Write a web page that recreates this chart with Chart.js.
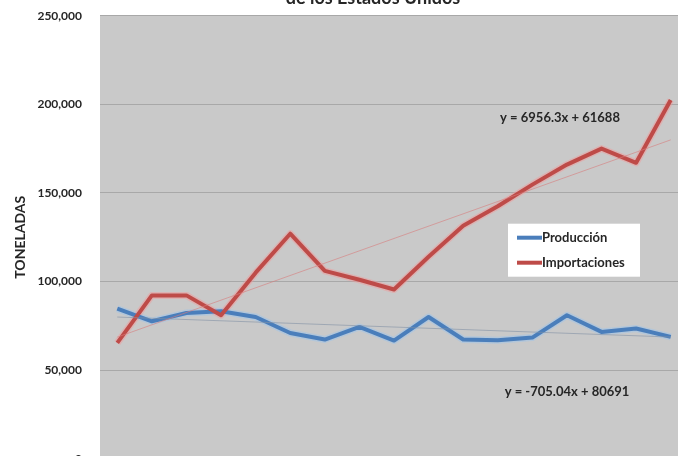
<!DOCTYPE html>
<html>
<head>
<meta charset="utf-8">
<script src="https://cdn.jsdelivr.net/npm/chart.js@4"></script>
<style>
html,body{margin:0;padding:0;background:#fff;width:678px;height:456px;overflow:hidden;position:relative;}
#c{position:absolute;left:0;top:-20px;}
</style>
</head>
<body>
<canvas id="c" width="744" height="520"></canvas>
<script>
// ---- data ----
const titleText = "de los Estados Unidos";
const yAxisTitle = "TONELADAS";
const years = ["1990","1991","1992","1993","1994","1995","1996","1997","1998","1999","2000","2001","2002","2003","2004","2005","2006"];
const produccion = [84700, 77600, 82300, 83200, 80000, 71000, 67300, 74400, 66700, 80000, 67300, 66900, 68400, 81000, 71600, 73500, 68800];
const importaciones = [65400, 92200, 92200, 81000, 105000, 127000, 106000, 101000, 95500, 114000, 131500, 142500, 154700, 166000, 175000, 167000, 202400];
// trendline end points (as shown by the equations on the chart)
const tendenciaImportaciones = [68644, null, null, null, null, null, null, null, null, null, null, null, null, null, null, null, 179944];
const tendenciaProduccion = [79986, null, null, null, null, null, null, null, null, null, null, null, null, null, null, null, 68705];
const seriesNames = ["Producción", "Importaciones"];
const eqImportaciones = "y = 6956.3x + 61688";
const eqProduccion = "y = -705.04x + 80691";
const yTicks = [0, 50000, 100000, 150000, 200000, 250000];

const BLUE = '#4A7EBB';
const RED = '#BE4B48';
const FONT = 'Lato, "Open Sans", "DejaVu Sans", sans-serif';

const plotBg = {
  id: 'plotBg',
  beforeDraw(chart) {
    const {ctx, chartArea: a} = chart;
    ctx.save();
    ctx.fillStyle = '#C9C9C9';
    ctx.fillRect(a.left, a.top, a.right - a.left, a.bottom - a.top);
    ctx.restore();
  }
};

const overlay = {
  id: 'overlay',
  afterDraw(chart) {
    const {ctx, chartArea: a} = chart;
    ctx.save();
    // title (mostly above the visible window, as in the reference)
    ctx.fillStyle = '#262626';
    ctx.font = 'bold 18px ' + FONT;
    ctx.textAlign = 'center';
    ctx.textBaseline = 'alphabetic';
    ctx.fillText(titleText, 373, a.top - 11.7);
    // equations
    ctx.font = 'bold 13px ' + FONT;
    ctx.textBaseline = 'middle';
    ctx.fillText(eqImportaciones, a.left + 460, a.top + 102);
    ctx.fillText(eqProduccion, a.left + 467, a.top + 376);
    // legend
    const lx = a.left + 408, ly = a.top + 208, lw = 132, lh = 53;
    ctx.fillStyle = '#FFFFFF';
    ctx.fillRect(lx, ly, lw, lh);
    const cols = [BLUE, RED];
    ctx.font = 'bold 13px ' + FONT;
    ctx.textAlign = 'left';
    for (let i = 0; i < seriesNames.length; i++) {
      const yy = ly + 14 + i * 25;
      ctx.strokeStyle = cols[i];
      ctx.lineWidth = 4;
      ctx.beginPath();
      ctx.moveTo(lx + 9, yy);
      ctx.lineTo(lx + 34, yy);
      ctx.stroke();
      ctx.fillStyle = '#262626';
      ctx.fillText(seriesNames[i], lx + 34, yy + 0.5);
    }
    ctx.restore();
  }
};

new Chart(document.getElementById('c'), {
  type: 'line',
  data: {
    labels: years,
    datasets: [
      {label: 'tendImp', data: tendenciaImportaciones, borderColor: 'rgba(215,125,125,0.6)', borderWidth: 1, pointRadius: 0, spanGaps: true, tension: 0},
      {label: 'tendProd', data: tendenciaProduccion, borderColor: 'rgba(130,145,165,0.6)', borderWidth: 1, pointRadius: 0, spanGaps: true, tension: 0},
      {label: seriesNames[1], data: importaciones, borderColor: RED, borderWidth: 4, pointRadius: 0, tension: 0, borderJoinStyle: 'round'},
      {label: seriesNames[0], data: produccion, borderColor: BLUE, borderWidth: 4, pointRadius: 0, tension: 0, borderJoinStyle: 'round'},
      {label: 'haloImp', data: importaciones, borderColor: 'rgba(245,150,150,0.45)', borderWidth: 7, pointRadius: 0, tension: 0, borderJoinStyle: 'round'},
      {label: 'haloProd', data: produccion, borderColor: 'rgba(150,195,240,0.45)', borderWidth: 7, pointRadius: 0, tension: 0, borderJoinStyle: 'round'}
    ]
  },
  options: {
    responsive: false,
    animation: false,
    events: [],
    layout: {padding: {left: 0, right: 56, top: 35.7, bottom: 11.2}},
    plugins: {
      legend: {display: false},
      tooltip: {enabled: false},
      title: {display: false}
    },
    scales: {
      x: {
        offset: true,
        grid: {display: false},
        border: {display: false},
        ticks: {color: '#262626', font: {family: FONT, size: 12, weight: 'bold'}},
        afterFit(s) { s.height = 30; }
      },
      y: {
        min: 0,
        max: 250000,
        afterBuildTicks(s) { s.ticks = yTicks.map(v => ({value: v})); },
        grid: {color: '#A8A8A8', lineWidth: 1, drawTicks: false},
        border: {display: false},
        ticks: {
          padding: 18,
          color: '#262626',
          font: {family: FONT, size: 12, weight: 'bold'},
          callback: v => v.toLocaleString('en-US')
        },
        title: {
          display: true,
          text: yAxisTitle,
          color: '#262626',
          font: {family: FONT, size: 14, weight: 'bold', lineHeight: 1.2},
          padding: {top: 11.6, bottom: 0}
        },
        afterFit(s) { s.width = 100; }
      }
    }
  },
  plugins: [plotBg, overlay]
});
</script>
</body>
</html>
